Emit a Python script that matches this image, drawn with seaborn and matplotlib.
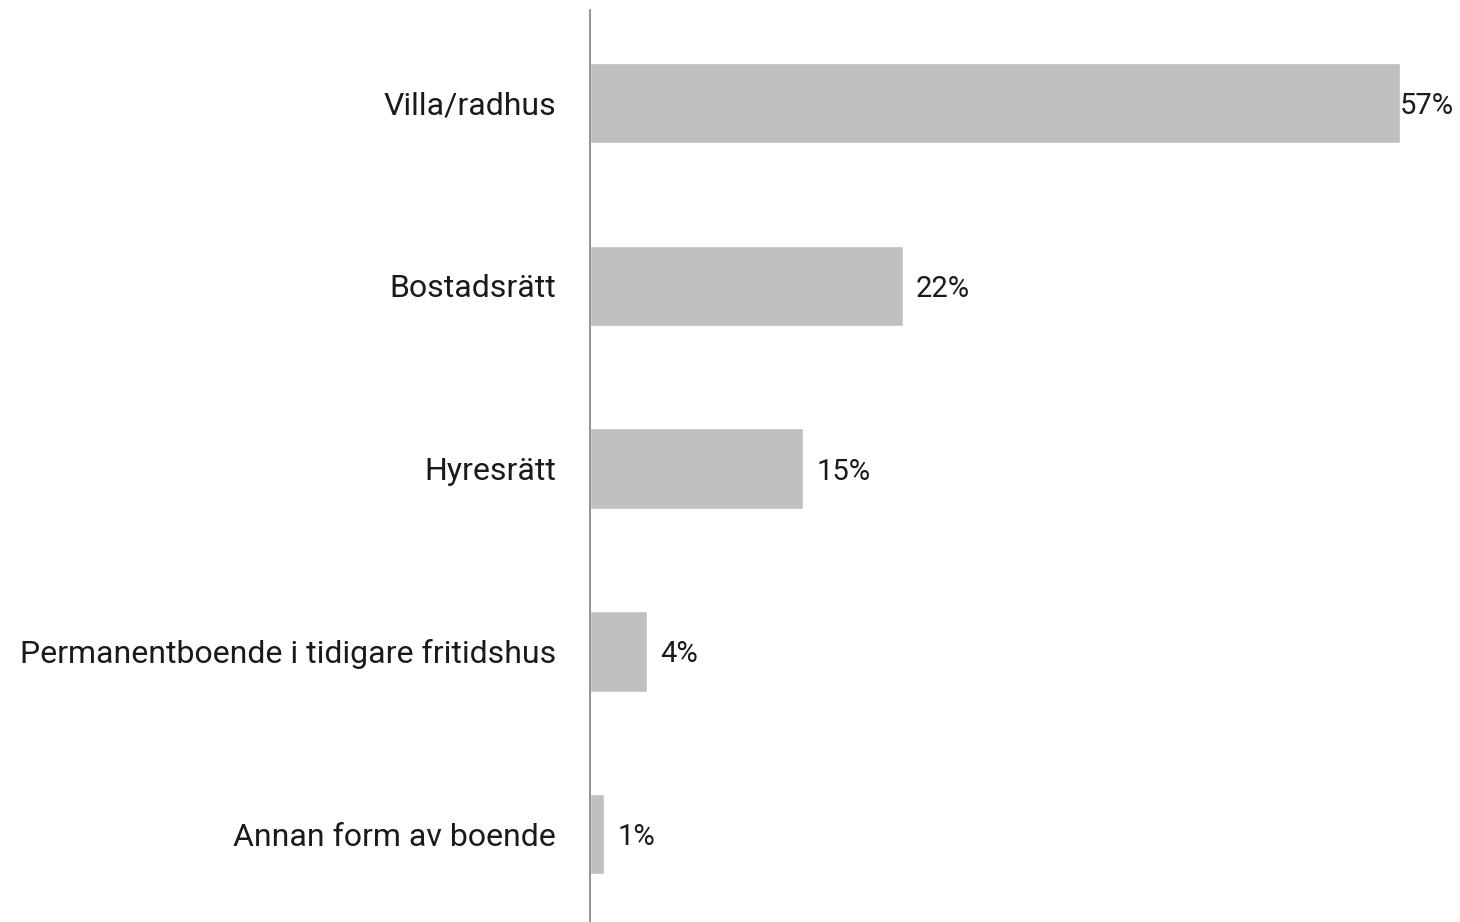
import matplotlib
matplotlib.use("Agg")
import matplotlib.pyplot as plt
import seaborn as sns
import pandas as pd

categories = ["Villa/radhus", "Bostadsrätt", "Hyresrätt",
              "Permanentboende i tidigare fritidshus", "Annan form av boende"]
values = [57, 22, 15, 4, 1]
value_labels = ["57%", "22%", "15%", "4%", "1%"]

df = pd.DataFrame({"cat": categories, "val": values})

sns.set_theme(style="white")
plt.rcParams['font.family'] = ['Roboto', 'DejaVu Sans']

fig = plt.figure(figsize=(14.6, 9.22), dpi=100)
ax = fig.add_axes([590/1460, 0, 1 - 590/1460, (922-10)/922])

sns.barplot(data=df, x="val", y="cat", orient="h", color="#bfbfbf",
            saturation=1, width=0.44, ax=ax)

ax.set_xlim(0, 870/14.21)
ax.set_ylim(4.48, -0.509)

for i, (v, lab) in enumerate(zip(values, value_labels)):
    off = 0 if i == 0 else 13
    ax.annotate(lab, (v, i), xytext=(off, -3), textcoords="offset pixels",
                va="center", ha="left", fontsize=21, color="#1a1a1a")

ax.set_xlabel("")
ax.set_ylabel("")
ax.set_xticks([])
ax.tick_params(axis="y", length=0, pad=24.5, labelsize=23, labelcolor="#1a1a1a")
for s in ["top", "right", "bottom"]:
    ax.spines[s].set_visible(False)
ax.spines["left"].set_color("#808080")
ax.spines["left"].set_linewidth(1.2)

fig.savefig("out.png", dpi=100)
